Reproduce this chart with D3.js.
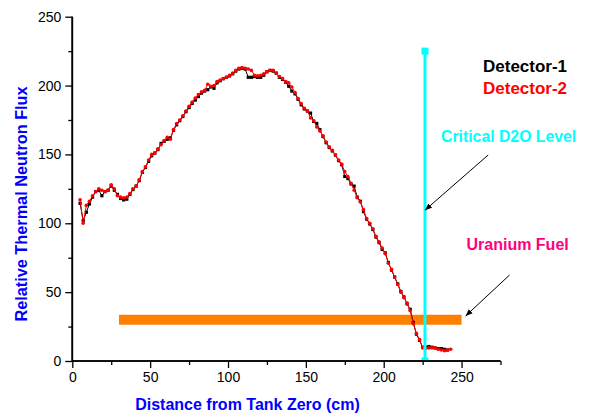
<!DOCTYPE html>
<html>
<head>
<meta charset="utf-8">
<script src="https://cdn.jsdelivr.net/npm/d3@7"></script>
<style>
  body { margin: 0; background: #fff; }
  text { font-family: "Liberation Sans", Arial, sans-serif; }
</style>
</head>
<body>
<div id="chart"></div>
<script>
// positions along the tank (cm)
const distance = [
  5, 7, 9, 11, 13, 15, 17, 19, 21, 23, 25, 27, 29, 31, 33, 35, 37, 39, 41, 43,
  45, 47, 49, 51, 53, 55, 57, 59, 61, 63, 65, 67, 69, 71, 73, 75, 77, 79, 81, 83,
  85, 87, 89, 91, 93, 95, 97, 99, 101, 103, 105, 107, 109, 111, 113, 115, 117, 119, 121, 123,
  125, 127, 129, 131, 133, 135, 137, 139, 141, 143, 145, 147, 149, 151, 153, 155, 157, 159, 161, 163,
  165, 167, 169, 171, 173, 175, 177, 179, 181, 183, 185, 187, 189, 191, 193, 195, 197, 199, 201, 203,
  205, 207, 209, 211, 213, 215, 217, 219, 221, 223, 225, 227, 229, 231, 233, 235, 237, 239, 241, 243
];
const detector1 = [
  114.5, 102, 108, 114, 119, 123, 124, 120, 123, 124,
  127, 124, 121, 118, 117, 117.5, 121, 124.5, 127, 131,
  137, 140.5, 145, 149, 151, 153.5, 158, 159.5, 161, 162,
  167.5, 171.5, 174.5, 177.5, 181, 184, 187, 189.5, 192, 194.5,
  196, 197, 199, 198, 202, 203.5, 205, 206, 207, 208.5,
  210.5, 212, 212.5, 212, 206, 206, 206.5, 206, 206, 207.5,
  210, 211, 210.5, 209, 206, 204.5, 202.5, 199.5, 196, 194,
  190, 186, 183, 181.5, 180, 174, 172.5, 168, 163, 158.5,
  155, 152.5, 149.5, 145.5, 142.5, 134, 132.5, 128.5, 127, 119,
  116, 108.5, 103, 99.5, 95.5, 90, 86, 81, 78.5, 71.5,
  66, 61, 56, 50.5, 46.5, 41.5, 37.5, 28, 19.5, 15,
  10, 10, 10.5, 10, 9.5, 9, 9, 8.5, 8
];
const detector2 = [
  117, 100, 113, 116, 120, 123, 125, 124, 123, 124,
  128, 125, 120, 119, 118.5, 119, 121.5, 125, 127, 131.5,
  137.5, 141, 146, 150, 151, 154, 157, 160, 162.5, 161,
  168, 172.5, 175, 178, 181.5, 185, 188, 191, 193.5, 195.5,
  196.5, 201, 199.5, 200, 203, 204, 205, 206, 207.5, 209,
  211, 212.5, 213, 212.5, 212, 211, 207.5, 207, 207.5, 208.5,
  210, 211, 211, 209, 206.5, 205, 203, 202, 199, 195,
  190.5, 187, 183.5, 181.5, 176.5, 174.5, 170, 167, 163.5, 159,
  155.5, 153, 149.5, 146, 143, 137.5, 134, 129, 124, 118.5,
  115.5, 110, 103.5, 100, 96, 90.5, 86.5, 82, 78, 71,
  66.5, 61, 55.5, 50, 46, 42, 36.5, 27, 20, 15.5,
  9.5, 9, 9.5, 9.5, 9.5, 8.5, 8, 7.5, 8, 8.5
];
const xTicks = [0, 50, 100, 150, 200, 250];
const xMinor = [25, 75, 125, 175, 225, 275];
const yTicks = [0, 50, 100, 150, 200, 250];
const yMinor = [25, 75, 125, 175, 225];
const criticalLevel = { x: 226.5, y0: 0, y1: 225 };
const fuel = { x0: 30, x1: 250, y: 30 };

const width = 596, height = 419;

const svg = d3.select("#chart").append("svg")
  .attr("width", width)
  .attr("height", height);

const x = d3.scaleLinear().domain([0, 275]).range([72.3, 500.5]);
const y = d3.scaleLinear().domain([0, 250]).range([361, 16.7]);

svg.append("defs").append("clipPath").attr("id", "plot")
  .append("rect")
  .attr("x", x(0)).attr("y", 0)
  .attr("width", x(275) - x(0)).attr("height", y(0));

svg.select("defs").append("marker")
  .attr("id", "arrow")
  .attr("viewBox", "0 0 10 10")
  .attr("refX", 10).attr("refY", 5)
  .attr("markerWidth", 7).attr("markerHeight", 7)
  .attr("markerUnits", "userSpaceOnUse")
  .attr("orient", "auto")
  .append("path").attr("d", "M0,1L10,5L0,9Z").attr("fill", "#000");

// uranium fuel bar
svg.append("line")
  .attr("x1", x(fuel.x0)).attr("x2", x(fuel.x1))
  .attr("y1", y(fuel.y)).attr("y2", y(fuel.y))
  .attr("stroke", "#ff8000").attr("stroke-width", 10);

// detector series
const line = d3.line().x(d => x(d[0])).y(d => y(d[1]));
const d1 = detector1.map((v, i) => [distance[i], v]);
const d2 = detector2.map((v, i) => [distance[i], v]);

svg.append("path").datum(d1).attr("d", line)
  .attr("fill", "none").attr("stroke", "#000").attr("stroke-width", 1);
svg.selectAll(".p1").data(d1).enter().append("rect")
  .attr("x", d => x(d[0]) - 1.6).attr("y", d => y(d[1]) - 1.6)
  .attr("width", 3.2).attr("height", 3.2).attr("fill", "#000");

svg.append("path").datum(d2).attr("d", line)
  .attr("fill", "none").attr("stroke", "#ff0000").attr("stroke-width", 1);
svg.selectAll(".p2").data(d2).enter().append("circle")
  .attr("cx", d => x(d[0])).attr("cy", d => y(d[1]))
  .attr("r", 1.8).attr("fill", "#ff0000");

// critical D2O level
const crit = svg.append("g").attr("clip-path", "url(#plot)");
crit.append("line")
  .attr("x1", x(criticalLevel.x)).attr("x2", x(criticalLevel.x))
  .attr("y1", y(criticalLevel.y0)).attr("y2", y(criticalLevel.y1))
  .attr("stroke", "#00ffff").attr("stroke-width", 3);
crit.selectAll("rect").data([criticalLevel.y0, criticalLevel.y1]).enter().append("rect")
  .attr("x", x(criticalLevel.x) - 3.5).attr("y", d => y(d) - 3.5)
  .attr("width", 7).attr("height", 7).attr("fill", "#00ffff");

// axes
const xAxis = svg.append("g").attr("transform", `translate(0,${y(0)})`);
xAxis.call(d3.axisBottom(x).tickValues(xTicks).tickSize(7).tickPadding(4).tickFormat(d3.format("d")));
xAxis.append("g").call(d3.axisBottom(x).tickValues(xMinor).tickSize(4).tickFormat(""));
const yAxis = svg.append("g").attr("transform", `translate(${x(0)},0)`);
yAxis.call(d3.axisLeft(y).tickValues(yTicks).tickSize(7).tickPadding(4).tickFormat(d3.format("d")));
yAxis.append("g").call(d3.axisLeft(y).tickValues(yMinor).tickSize(4).tickFormat(""));

svg.selectAll(".domain").attr("stroke", "#000").attr("stroke-width", 1.6);
svg.selectAll(".tick line").attr("stroke", "#000").attr("stroke-width", 1.3);
svg.selectAll(".tick text")
  .attr("fill", "#000")
  .style("font-family", "'Liberation Sans', Arial, sans-serif")
  .style("font-size", "14px");
// remove domain end caps
xAxis.selectAll(".domain").attr("d", `M${x(0)},0H${x(275)}`);
yAxis.selectAll(".domain").attr("d", `M0,${y(0)}V${y(250)}`);

// axis titles
svg.append("text")
  .attr("x", 247.5).attr("y", 410)
  .attr("text-anchor", "middle")
  .attr("fill", "#0000ff").attr("font-weight", "bold").attr("font-size", 16)
  .text("Distance from Tank Zero (cm)");
svg.append("text")
  .attr("transform", "translate(27,204) rotate(-90)")
  .attr("text-anchor", "middle")
  .attr("fill", "#0000ff").attr("font-weight", "bold").attr("font-size", 16.3)
  .text("Relative Thermal Neutron Flux");

// legend and annotations
const notes = [
  { text: "Detector-1", x: 483, y: 72, color: "#000000", size: 17 },
  { text: "Detector-2", x: 483, y: 93.5, color: "#ff0000", size: 17 },
  { text: "Critical D2O Level", x: 441, y: 141.5, color: "#00ffff", size: 15.8 },
  { text: "Uranium Fuel", x: 466.5, y: 250, color: "#ff0080", size: 16 }
];
svg.selectAll(".note").data(notes).enter().append("text")
  .attr("x", d => d.x).attr("y", d => d.y)
  .attr("fill", d => d.color)
  .attr("font-weight", "bold").attr("font-size", d => d.size)
  .text(d => d.text);

const arrows = [
  { from: [267.1, 149.6], to: [226.5, 109.5] },
  { from: [280.8, 62.4], to: [252.6, 32.7] }
];
svg.selectAll(".arrow").data(arrows).enter().append("line")
  .attr("x1", d => x(d.from[0])).attr("y1", d => y(d.from[1]))
  .attr("x2", d => x(d.to[0])).attr("y2", d => y(d.to[1]))
  .attr("stroke", "#000").attr("stroke-width", 1)
  .attr("marker-end", "url(#arrow)");
</script>
</body>
</html>
